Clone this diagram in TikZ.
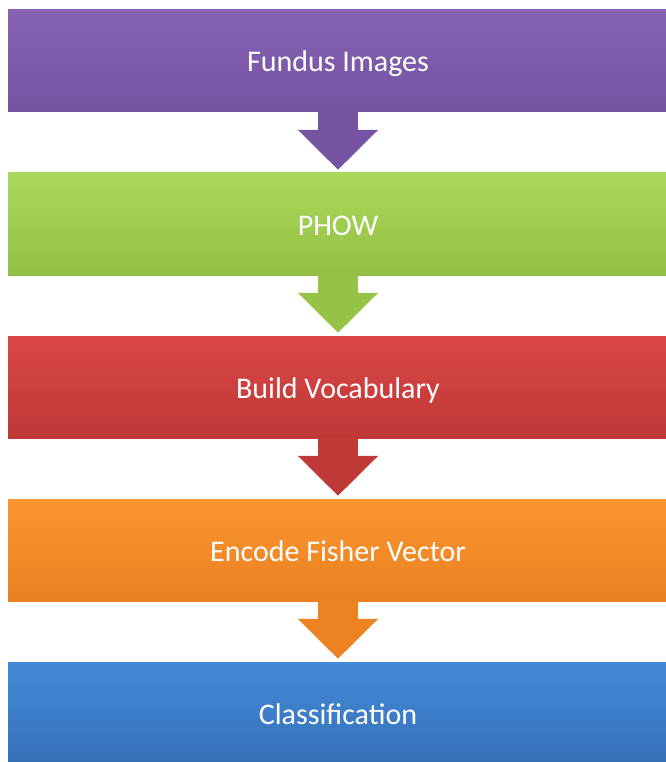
\documentclass[tikz,border=0pt]{standalone}
\usepackage{fontspec}
\setmainfont{Carlito}
\usepackage{tikz}
\usetikzlibrary{arrows.meta}
\usetikzlibrary{positioning}

\definecolor{purpletop}{HTML}{8762B4}
\definecolor{purplebot}{HTML}{7453A0}
\definecolor{greentop}{HTML}{ABD95B}
\definecolor{greenbot}{HTML}{93BF45}
\definecolor{redtop}{HTML}{DA4746}
\definecolor{redbot}{HTML}{BD3837}
\definecolor{orangetop}{HTML}{FA9630}
\definecolor{orangebot}{HTML}{EA8020}
\definecolor{bluetop}{HTML}{448AD9}
\definecolor{bluebot}{HTML}{3570B8}

\begin{document}
\begin{tikzpicture}[
    x=1pt, y=-1pt,
    stage/.style={rectangle, minimum width=660pt, minimum height=102pt,
      inner sep=0pt, text height=22pt, text depth=0pt,
      text=white, font=\fontsize{30}{36}\selectfont,
      top color=#1top, bottom color=#1bot},
    flow/.style={line width=40pt, draw=#1bot!90!#1top, shorten >=3pt,
      -{Triangle[length=40pt, width=78pt]}},
  ]
  \useasboundingbox (0,0) rectangle (665,762);

  \node[stage=purple] (fundus) at (338, 61)  {Fundus Images};
  \node[stage=green]  (phow)   at (338, 224) {PHOW};
  \node[stage=red]    (vocab)  at (338, 387) {Build Vocabulary};
  \node[stage=orange] (fisher) at (338, 550) {Encode Fisher Vector};
  \node[stage=blue]   (classif) at (338, 713) {Classification};

  \draw[flow=purple] (fundus) -- (phow);
  \draw[flow=green]  (phow)   -- (vocab);
  \draw[flow=red]    (vocab)  -- (fisher);
  \draw[flow=orange] (fisher) -- (classif);

\end{tikzpicture}
\end{document}
